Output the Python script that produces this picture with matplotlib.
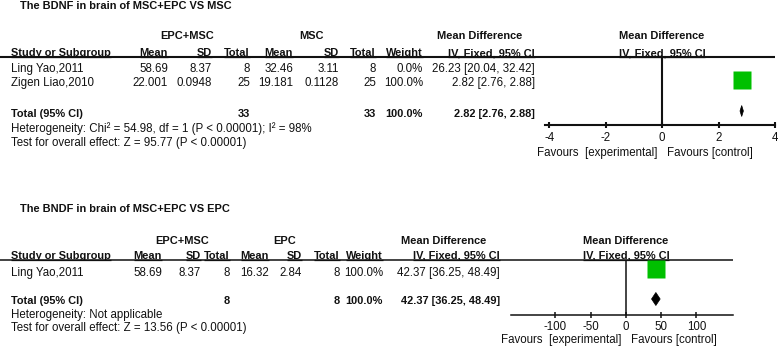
import matplotlib
matplotlib.use("Agg")
import matplotlib.pyplot as plt
import matplotlib.transforms as mtransforms
from matplotlib.patches import Polygon
import numpy as np

plt.rcParams['font.family'] = ['Liberation Sans', 'DejaVu Sans']

W, H = 778, 347
FS = 8.3      # regular text
FSB = 7.9     # bold text
TXT = '#111111'
GREEN = '#00c000'

# ---------------- panel 1 data ----------------
p1_title = "The BDNF in brain of MSC+EPC VS MSC"
p1_exp_label = "EPC+MSC"
p1_ctl_label = "MSC"
p1_studies = ["Ling Yao,2011", "Zigen Liao,2010"]
p1_exp_mean = [58.69, 22.001]
p1_exp_sd = [8.37, 0.0948]
p1_exp_n = [8, 25]
p1_ctl_mean = [32.46, 19.181]
p1_ctl_sd = [3.11, 0.1128]
p1_ctl_n = [8, 25]
p1_weight = [0.0, 100.0]
p1_md = [26.23, 2.82]
p1_lo = [20.04, 2.76]
p1_hi = [32.42, 2.88]
p1_total = [33, 33, 100.0, 2.82, 2.76, 2.88]
p1_het = "Heterogeneity: Chi\u00b2 = 54.98, df = 1 (P < 0.00001); I\u00b2 = 98%"
p1_test = "Test for overall effect: Z = 95.77 (P < 0.00001)"
p1_ticks = [-4, -2, 0, 2, 4]

# ---------------- panel 2 data ----------------
p2_title = "The BNDF in brain of MSC+EPC VS EPC"
p2_exp_label = "EPC+MSC"
p2_ctl_label = "EPC"
p2_studies = ["Ling Yao,2011"]
p2_exp_mean = [58.69]
p2_exp_sd = [8.37]
p2_exp_n = [8]
p2_ctl_mean = [16.32]
p2_ctl_sd = [2.84]
p2_ctl_n = [8]
p2_weight = [100.0]
p2_md = [42.37]
p2_lo = [36.25]
p2_hi = [48.49]
p2_total = [8, 8, 100.0, 42.37, 36.25, 48.49]
p2_het = "Heterogeneity: Not applicable"
p2_test = "Test for overall effect: Z = 13.56 (P < 0.00001)"
p2_ticks = [-100, -50, 0, 50, 100]

fav_left = "Favours  [experimental]"
fav_right = "Favours [control]"

# ---------------- layout (pixels) ----------------
L1 = dict(title_y=5, group_y=35, head_y=52, rule_y=56.5, rows_y=[68, 82],
          total_y=113, het_y=127.5, test_y=141.5, axis_y=125, rule_x1=775,
          ax_x0=545, ax_x1=775, xlim=(-4.15, 4.0),
          cols=[168, 212, 250, 293, 339, 376, 423, 535],
          grp=[187, 312, 480], sq=18, sq_dy=-2, dia_dy=-2, dh=5.5, lw=1.5,
          fav_y=152)
L2 = dict(title_y=208, group_y=240, head_y=255, rule_y=260, rows_y=[272],
          total_y=300.5, het_y=314, test_y=327.5, axis_y=314.5, rule_x1=733,
          ax_x0=511, ax_x1=733, xlim=(-163.1, 151.8),
          cols=[162, 201, 230, 269, 302, 340, 383, 500],
          grp=[182, 285, 444], sq=18, sq_dy=-3, dia_dy=-1.5, dh=6.5, lw=1.1,
          fav_y=339)

fig = plt.figure(figsize=(W / 100, H / 100), dpi=100)
ov = fig.add_axes([0, 0, 1, 1])
ov.set_xlim(0, W)
ov.set_ylim(H, 0)
ov.axis('off')

BL = 4  # center -> baseline offset


def t(x, y, s, ha='left', bold=False, **kw):
    return ov.text(x, y + BL, s, ha=ha, va='baseline',
                   fontsize=FSB if bold else FS, color=TXT,
                   fontweight='bold' if bold else 'normal', **kw)


underlined = []


def panel(L, title, exp_label, ctl_label, studies, em, esd, en, cm, csd, cn,
          wt, md, lo, hi, total, het, test, ticks):
    c = L['cols']
    t(20, L['title_y'], title, bold=True)
    t(L['grp'][0], L['group_y'], exp_label, ha='center', bold=True)
    t(L['grp'][1], L['group_y'], ctl_label, ha='center', bold=True)
    t(L['grp'][2], L['group_y'], "Mean Difference", ha='center', bold=True)
    hy = L['head_y']
    underlined.append(t(11, hy, "Study or Subgroup", bold=True))
    for x, s in zip(c, ["Mean", "SD", "Total", "Mean", "SD", "Total"]):
        underlined.append(t(x, hy, s, ha='right', bold=True))
    underlined.append(t(c[6], hy, "Weight", ha='right', bold=True))
    underlined.append(t(c[7], hy, "IV, Fixed, 95% CI", ha='right', bold=True))
    ov.plot([0, L['rule_x1']], [L['rule_y'], L['rule_y']], color=TXT,
            lw=L['lw'], solid_capstyle='butt')

    for i, y in enumerate(L['rows_y']):
        t(11, y, studies[i])
        t(c[0], y, f"{em[i]:g}", ha='right')
        t(c[1], y, f"{esd[i]:g}", ha='right')
        t(c[2], y, f"{en[i]}", ha='right')
        t(c[3], y, f"{cm[i]:g}", ha='right')
        t(c[4], y, f"{csd[i]:g}", ha='right')
        t(c[5], y, f"{cn[i]}", ha='right')
        t(c[6], y, f"{wt[i]:.1f}%", ha='right')
        t(c[7], y, f"{md[i]:.2f} [{lo[i]:.2f}, {hi[i]:.2f}]", ha='right')

    ty = L['total_y']
    t(11, ty, "Total (95% CI)", bold=True)
    t(c[2], ty, f"{total[0]}", ha='right', bold=True)
    t(c[5], ty, f"{total[1]}", ha='right', bold=True)
    t(c[6], ty, f"{total[2]:.1f}%", ha='right', bold=True)
    t(c[7], ty, f"{total[3]:.2f} [{total[4]:.2f}, {total[5]:.2f}]", ha='right', bold=True)
    t(11, L['het_y'], het)
    t(11, L['test_y'], test)

    # forest axes
    x0, x1 = L['ax_x0'], L['ax_x1']
    y0, y1 = L['rule_y'], L['axis_y']
    ax = fig.add_axes([x0 / W, 1 - y1 / H, (x1 - x0) / W, (y1 - y0) / H])
    ax.set_facecolor('none')
    ax.set_xlim(*L['xlim'])
    ax.set_ylim(y1, y0)
    for s in ['top', 'left', 'right']:
        ax.spines[s].set_visible(False)
    ax.spines['bottom'].set_linewidth(L['lw'])
    ax.spines['bottom'].set_color(TXT)
    ax.set_yticks([])
    ax.set_xticks(ticks)
    ax.set_xticklabels([str(v) for v in ticks])
    ax.tick_params(axis='x', direction='inout', length=5, width=L['lw'],
                   color=TXT, labelsize=FS, labelcolor=TXT, pad=2.2)
    ax.axvline(0, color=TXT, lw=L['lw'])

    for i, y in enumerate(L['rows_y']):
        ys = y + L['sq_dy']
        ax.plot([lo[i], hi[i]], [ys, ys], color=TXT, lw=1, zorder=2)
        if wt[i] > 0:
            ms = L['sq'] * 0.72 * np.sqrt(wt[i] / 100.0)
            ax.plot([md[i]], [ys], marker='s', ms=ms, mfc=GREEN, mec='none',
                    ls='none', zorder=3)
    dh = L['dh']
    yd = ty + L['dia_dy']
    ax.add_patch(Polygon([[total[4], yd], [total[3], yd - dh], [total[5], yd],
                          [total[3], yd + dh]], closed=True, facecolor='black',
                         edgecolor='black', lw=0.5, zorder=3, clip_on=False))

    bt = mtransforms.blended_transform_factory(ax.transData, ov.transData)
    ov.text(0, L['group_y'] + BL, "Mean Difference", transform=bt, ha='center',
            va='baseline', fontsize=FSB, color=TXT, fontweight='bold')
    underlined.append(ov.text(0, hy + BL, "IV, Fixed, 95% CI", transform=bt,
                              ha='center', va='baseline', fontsize=FSB,
                              color=TXT, fontweight='bold'))
    ov.annotate(fav_left, xy=(0, L['fav_y'] + BL), xycoords=bt,
                xytext=(-3.4, 0), textcoords='offset points', ha='right',
                va='baseline', fontsize=FS, color=TXT)
    ov.annotate(fav_right, xy=(0, L['fav_y'] + BL), xycoords=bt,
                xytext=(3.4, 0), textcoords='offset points', ha='left',
                va='baseline', fontsize=FS, color=TXT)
    return ax


panel(L1, p1_title, p1_exp_label, p1_ctl_label, p1_studies, p1_exp_mean,
      p1_exp_sd, p1_exp_n, p1_ctl_mean, p1_ctl_sd, p1_ctl_n, p1_weight, p1_md,
      p1_lo, p1_hi, p1_total, p1_het, p1_test, p1_ticks)
panel(L2, p2_title, p2_exp_label, p2_ctl_label, p2_studies, p2_exp_mean,
      p2_exp_sd, p2_exp_n, p2_ctl_mean, p2_ctl_sd, p2_ctl_n, p2_weight, p2_md,
      p2_lo, p2_hi, p2_total, p2_het, p2_test, p2_ticks)

# underline header texts
fig.canvas.draw()
r = fig.canvas.get_renderer()
for txt in underlined:
    bb = txt.get_window_extent(renderer=r)
    base_y = txt.get_position()[1]
    ov.plot([bb.x0, bb.x1], [base_y + 1.3, base_y + 1.3], color=TXT, lw=0.9,
            solid_capstyle='butt')

fig.savefig("out.png", dpi=100)
